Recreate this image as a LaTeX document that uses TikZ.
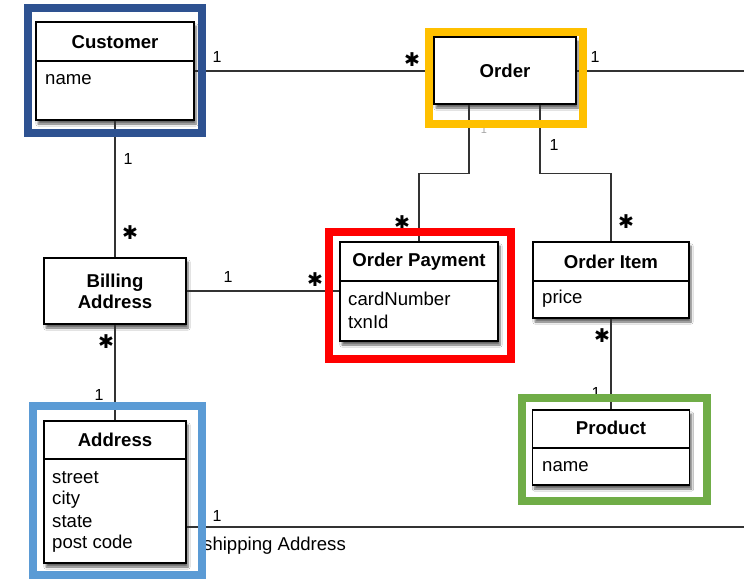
\documentclass[tikz,border=0pt]{standalone}
\usepackage{fontspec}
\setmainfont{Liberation Sans}
\newfontfamily\symfont{DejaVu Sans}
\usetikzlibrary{shadows.blur}
\begin{document}
\begin{tikzpicture}[x=1pt,y=-1pt,
  cls/.style={draw=black, line width=1.4pt, fill=white, inner sep=0pt,
    blur shadow={shadow xshift=2pt, shadow yshift=-4pt, shadow blur steps=6, shadow opacity=60}},
  ttl/.style={font=\fontsize{18.6}{21}\selectfont\bfseries, inner sep=0pt, align=center},
  attr/.style={font=\fontsize{18.6}{22}\selectfont, inner sep=0pt, anchor=west},
  mult/.style={font=\fontsize{16}{18}\selectfont, inner sep=0pt},
  star/.style={font=\symfont\fontsize{19}{20}\selectfont, inner sep=0pt},
  conn/.style={draw=black!80, line width=1.4pt},
  divl/.style={draw=black, line width=1.2pt},
  frame/.style={line width=8pt}]
\useasboundingbox (0,0) rectangle (744,579);
\fill[white] (0,0) rectangle (744,579);

% classes
\node[cls, minimum width=158pt, minimum height=98pt] (cust) at (115,71) {};
\node[cls, minimum width=142pt, minimum height=67pt] (order) at (505,70.5) {};
\node[cls, minimum width=158pt, minimum height=99pt] (op) at (419,291.5) {};
\node[cls, minimum width=156pt, minimum height=76pt] (oi) at (611,280) {};
\node[cls, minimum width=157pt, minimum height=75pt] (prod) at (611,447.5) {};
\node[cls, minimum width=142pt, minimum height=66pt] (bill) at (115,291) {};
\node[cls, minimum width=142pt, minimum height=142pt] (addr) at (115,492) {};

% dividers
\draw[divl] (cust.west |- 0,61) -- (cust.east |- 0,61);
\draw[divl] (op.west |- 0,281) -- (op.east |- 0,281);
\draw[divl] (oi.west |- 0,281) -- (oi.east |- 0,281);
\draw[divl] (prod.west |- 0,448) -- (prod.east |- 0,448);
\draw[divl] (addr.west |- 0,459) -- (addr.east |- 0,459);

% titles
\node[ttl] (tcust) at (115,42) {Customer};
\node[ttl] (torder) at (505,71) {Order};
\node[ttl] (top) at (419,262) {Order Payment};
\node[ttl] (toi) at (611,262) {Order Item};
\node[ttl] (tprod) at (611,428) {Product};
\node[ttl] (tbill) at (115,291) {Billing\\Address};
\node[ttl] (taddr) at (115,440) {Address};

% attributes
\node[attr] (acn) at (45,80) {name};
\node[attr] (acard) at (348,299) {cardNumber};
\node[attr] (atxn) at (348,322) {txnId};
\node[attr] (aprice) at (542,299) {price};
\node[attr] (apname) at (542,467) {name};
\node[attr] (astreet) at (52,478) {street};
\node[attr] (acity) at (52,500) {city};
\node[attr] (astate) at (52,522) {state};
\node[attr] (apost) at (52,544) {post code};

% connectors
\coordinate (orderEnd) at (744,71);
\coordinate (shipEnd) at (744,527);
\draw[conn] (cust.east |- 0,71) -- (order.west |- 0,71);
\draw[conn] (order.east |- 0,71) -- (orderEnd);
\draw[conn] ([xshift=-36pt]order.south) -- ++(0,69) -| (op.north);
\draw[conn] ([xshift=35pt]order.south) -- ++(0,69) -| (oi.north);
\draw[conn] (cust.south) -- (bill.north);
\draw[conn] (bill.east) -- (bill.east -| op.west);
\draw[conn] (bill.south) -- (addr.north);
\draw[conn] (oi.south) -- (prod.north);
\draw[conn] (addr.east |- shipEnd) -- (shipEnd);

% multiplicities
\node[mult] (m1) at (217,57) {1};
\node[star] (m2) at (412,60) {✱};
\node[mult] (m3) at (595,57) {1};
\node[mult, text=black!35, font=\fontsize{11}{12}\selectfont] (m4) at (484,130) {1};
\node[mult] (m5) at (554,145) {1};
\node[star] (m6) at (402,223) {✱};
\node[star] (m7) at (626,222) {✱};
\node[mult] (m8) at (128,159) {1};
\node[star] (m9) at (130,233) {✱};
\node[mult] (m10) at (228,277) {1};
\node[star] (m11) at (315,280) {✱};
\node[star] (m12) at (106,342) {✱};
\node[mult] (m13) at (99,395) {1};
\node[star] (m14) at (602,336) {✱};
\node[mult] (m15) at (596,393) {1};
\node[mult] (m16) at (217,516) {1};
\node[attr] (ship) at (203,546) {shipping Address};

% highlight frames
\draw[frame, draw={rgb,255:red,46;green,82;blue,145}] (27.5,8) rectangle (201.5,133);
\draw[frame, draw={rgb,255:red,255;green,192;blue,0}] (429,32) rectangle (583,124);
\draw[frame, draw={rgb,255:red,255;green,0;blue,0}] (329,232) rectangle (511,359);
\draw[frame, draw={rgb,255:red,112;green,173;blue,71}] (521.5,398) rectangle (706.5,501);
\draw[frame, draw={rgb,255:red,91;green,155;blue,213}] (32.5,405.5) rectangle (201.5,575);
\end{tikzpicture}
\end{document}
